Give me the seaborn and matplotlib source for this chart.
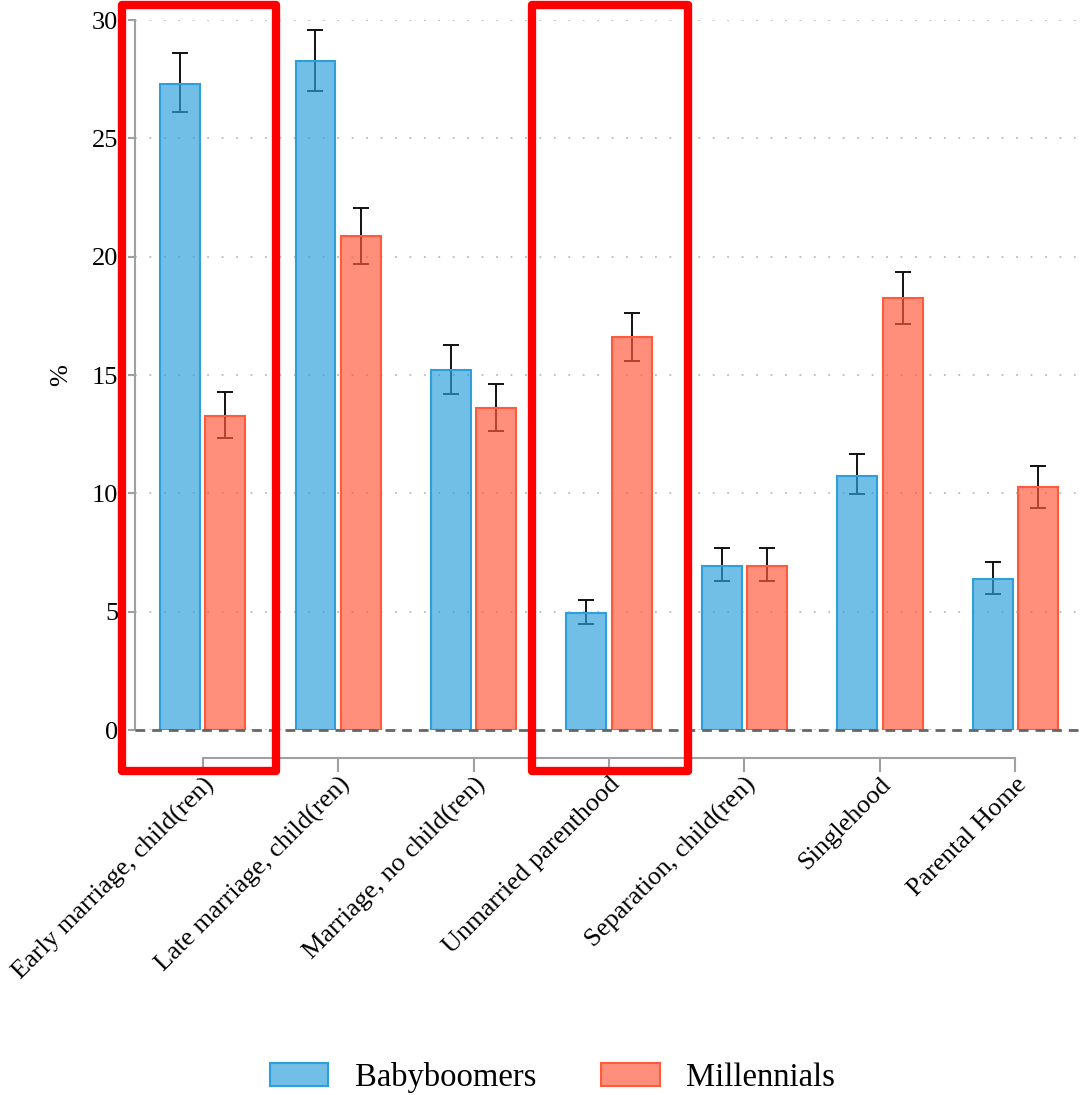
import numpy as np
import pandas as pd
import matplotlib
matplotlib.use('Agg')
import matplotlib.pyplot as plt
import seaborn as sns
from matplotlib.colors import to_rgba
from matplotlib.patches import Rectangle, Patch

# data
categories = ['Early marriage, child(ren)', 'Late marriage, child(ren)', 'Marriage, no child(ren)',
              'Unmarried parenthood', 'Separation, child(ren)', 'Singlehood', 'Parental Home']
boomers = [27.3, 28.25, 15.2, 4.95, 6.93, 10.73, 6.38]
boomers_lo = [26.1, 27.0, 14.2, 4.48, 6.3, 9.97, 5.75]
boomers_hi = [28.6, 29.6, 16.27, 5.49, 7.69, 11.66, 7.1]
millennials = [13.27, 20.87, 13.6, 16.6, 6.93, 18.25, 10.27]
millennials_lo = [12.34, 19.69, 12.63, 15.59, 6.3, 17.15, 9.38]
millennials_hi = [14.28, 22.05, 14.62, 17.62, 7.69, 19.35, 11.15]
groups = ['Babyboomers', 'Millennials']
edge_colors = ['#2E9FDB', '#FF5A3C']

df = pd.DataFrame({
    'cat': categories * 2,
    'group': [groups[0]] * 7 + [groups[1]] * 7,
    'val': boomers + millennials,
    'lo': boomers_lo + millennials_lo,
    'hi': boomers_hi + millennials_hi,
})

sns.set_style('white')
plt.rcParams['font.family'] = ['Liberation Serif', 'DejaVu Serif']
plt.rcParams['text.color'] = 'black'
plt.rcParams['axes.labelcolor'] = 'black'

fig = plt.figure(figsize=(10.83, 10.95), dpi=100)
ax = fig.add_axes([0.1247, 0.3333, 0.8753, 0.6484])

sns.barplot(data=df, x='cat', y='val', hue='group', palette=edge_colors, width=0.67, gap=0.12,
            saturation=1, ax=ax, legend=False, zorder=3)

# translucent fill, solid edge; error bars sit under the bars
for i, p in enumerate(ax.patches[:14]):
    g = i // 7
    p.set_facecolor(to_rgba(edge_colors[g], 0.68))
    p.set_edgecolor(edge_colors[g])
    p.set_linewidth(1.5)
    xc = p.get_x() + p.get_width() / 2
    row = df.iloc[i]
    ax.errorbar(xc, row['val'], yerr=[[row['val'] - row['lo']], [row['hi'] - row['val']]],
                fmt='none', ecolor='#111111', elinewidth=1.4, capsize=6, capthick=1.4, zorder=2)

ax.axhline(0, color='#666666', lw=2, ls=(0, (3.5, 2.5)), zorder=4, clip_on=False)
ax.set_ylim(0, 30)
ax.set_xlim(-0.5, 6.5)
ax.set_yticks([0, 5, 10, 15, 20, 25, 30])
ax.yaxis.grid(True, color='#BBBBBB', ls=(0, (1, 7)), lw=1.3)
ax.set_axisbelow(True)

for s in ['top', 'right']:
    ax.spines[s].set_visible(False)
ax.spines['left'].set_color('#A0A0A0')
ax.spines['left'].set_linewidth(1.5)
ax.spines['left'].set_bounds(0, 30)
ax.spines['bottom'].set_position(('outward', 20))
ax.spines['bottom'].set_bounds(0, 6)
ax.spines['bottom'].set_color('#A0A0A0')
ax.spines['bottom'].set_linewidth(1.5)
ax.tick_params(axis='both', left=True, bottom=True, colors='#A0A0A0', labelcolor='black', width=1.5)
ax.tick_params(axis='y', length=5, labelsize=19, pad=7)
ax.tick_params(axis='x', length=10, labelsize=19, pad=1)
plt.setp(ax.get_xticklabels(), rotation=45, ha='right', rotation_mode='anchor')
ax.set_xlabel('')
ax.set_ylabel('%', fontsize=19, labelpad=14)

# red highlight frames
for x0, x1 in [(-0.596, 0.541), (2.432, 3.584)]:
    ax.add_patch(Rectangle((x0, -1.73), x1 - x0, 32.36, fill=False, edgecolor='#FF0000',
                           lw=6, joinstyle='round', clip_on=False, zorder=10))

handles = [Patch(facecolor=to_rgba(c, 0.68), edgecolor=c, lw=1.5) for c in edge_colors]
fig.legend(handles, groups, loc='lower center', bbox_to_anchor=(0.51, -0.025), ncol=2, frameon=False,
           fontsize=23.5, handlelength=1.8, handleheight=0.7, columnspacing=2.0, handletextpad=0.8)

fig.savefig('out.png', dpi=100)
